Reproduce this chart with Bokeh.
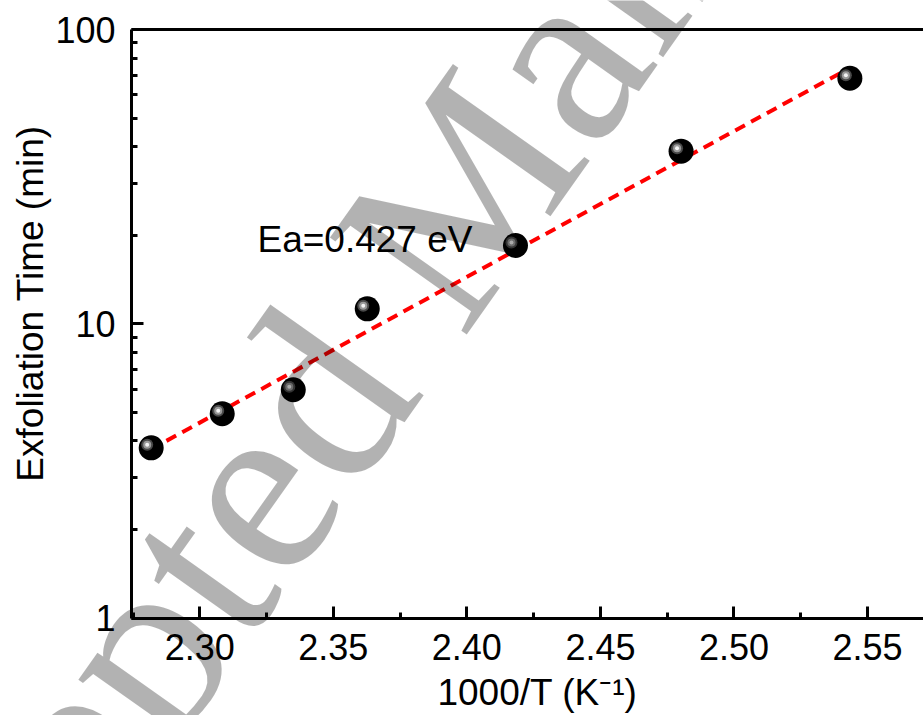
from bokeh.plotting import figure
from bokeh.models import (Label, LinearAxis, FixedTicker, SingleIntervalTicker,
                          PrintfTickFormatter, NumeralTickFormatter, Range1d)
from bokeh.embed import file_html
from bokeh.resources import INLINE

# ---- data ----
inv_temp = [2.2818, 2.3084, 2.3350, 2.3627, 2.4182, 2.4802, 2.5434]   # 1000/T (K^-1)
exf_time = [3.79, 4.95, 5.97, 11.25, 18.46, 38.6, 68.3]              # min
fit_x = [2.2816, 2.5430]
fit_y = [3.742, 73.7]
x_axis_bounds = (2.27443, 2.57097)
y_axis_bounds = (1, 100)
x_ticks_interval = 0.05
y_major = [1, 10, 100]
y_minor = [m * d for d in (1, 10) for m in range(2, 10)]
x_title = "1000/T (K\u207b\u00b9)"
y_title = "Exfoliation Time (min)"
ea_text = "Ea=0.427 eV"
watermark = "Accepted Manuscript"

FONT = "Liberation Sans"

# frame covers the whole canvas; axes are pinned with fixed_location
p = figure(width=923, height=715,
           x_range=Range1d(2.22538, 2.57097), y_range=Range1d(0.46702, 125.48),
           y_axis_type="log", output_backend="svg", toolbar_location=None,
           min_border=0, min_border_left=0, min_border_right=0,
           min_border_top=0, min_border_bottom=0)
p.outline_line_color = None
p.grid.visible = False
p.background_fill_color = "white"
p.border_fill_color = "white"

def style_axis(ax):
    ax.axis_line_width = 3
    ax.axis_line_color = "black"
    ax.major_tick_in = 12
    ax.major_tick_out = 0
    ax.minor_tick_in = 6
    ax.minor_tick_out = 0
    ax.major_tick_line_width = 3
    ax.minor_tick_line_width = 3
    ax.major_label_text_font = FONT
    ax.major_label_text_font_size = "36px"
    ax.major_label_text_color = "black"
    ax.major_label_standoff = 16

xa = p.xaxis[0]
style_axis(xa)
xa.fixed_location = y_axis_bounds[0]
xa.bounds = x_axis_bounds
xa.ticker = SingleIntervalTicker(interval=x_ticks_interval, num_minor_ticks=2)
xa.formatter = PrintfTickFormatter(format="%.2f")

ya = p.yaxis[0]
style_axis(ya)
ya.fixed_location = x_axis_bounds[0]
ya.bounds = y_axis_bounds
ya.ticker = FixedTicker(ticks=y_major, minor_ticks=y_minor)
ya.formatter = NumeralTickFormatter(format="0")

top = LinearAxis(fixed_location=y_axis_bounds[1], bounds=x_axis_bounds,
                 ticker=FixedTicker(ticks=[]), axis_line_width=3,
                 major_tick_line_color=None, minor_tick_line_color=None,
                 major_label_text_font_size="0px", major_label_standoff=0)
p.add_layout(top, "above")

# fit line
p.line(fit_x, fit_y, line_color="#ff0000", line_width=4, line_dash="11 7")

# sphere markers
p.scatter(inv_temp, exf_time, size=25, marker="circle", fill_color="black", line_color=None)
hx = [x - 4.0 / 2670.8 for x in inv_temp]
hy = [y * 10 ** (3.0 / 294.35) for y in exf_time]
p.scatter(hx, hy, size=12, marker="circle", fill_color="#4a4a4a", line_color=None)
p.scatter(hx, hy, size=8, marker="circle", fill_color="#9a9a9a", line_color=None)
p.scatter(hx, hy, size=4, marker="circle", fill_color="#f4f4f4", line_color=None)

# axis titles
p.add_layout(Label(x=2.42644, y=0.5592, text=x_title, text_font=FONT,
                   text_font_size="37px", text_color="black",
                   text_baseline="middle", text_align="center"))
p.add_layout(Label(x=2.23661, y=11.73, text=y_title, text_font=FONT,
                   text_font_size="37px", text_color="black", angle=90, angle_units="deg",
                   text_baseline="middle", text_align="center"))

p.add_layout(Label(x=2.3216, y=19.35, text=ea_text, text_font=FONT,
                   text_font_size="37px", text_color="black",
                   text_baseline="middle", text_align="left"))

# watermark
p.add_layout(Label(x=2.14900, y=0.018036, text=watermark, text_font="Liberation Serif",
                   text_font_size="256px", text_color="black", text_alpha=0.3,
                   angle=54.7, angle_units="deg",
                   text_baseline="middle", text_align="left"))

open("out.html", "w").write(file_html(p, INLINE))
